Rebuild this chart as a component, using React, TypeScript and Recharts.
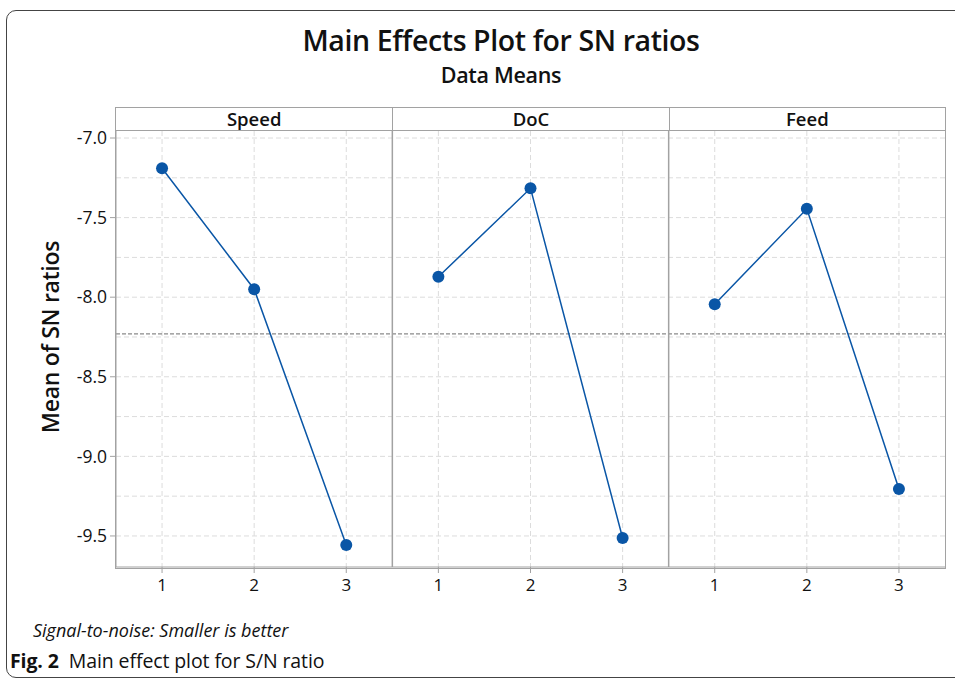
import React from "react";
import { LineChart, Line, XAxis, YAxis, CartesianGrid, ReferenceLine } from "recharts";

// factors and levels
const factors = ["Speed", "DoC", "Feed"];
const levels = [1, 2, 3];

// mean SN ratio per level
const speedMeans = [-7.19, -7.95, -9.557];
const docMeans = [-7.872, -7.316, -9.513];
const feedMeans = [-8.044, -7.445, -9.205];

const yTicks = [-9.5, -9.0, -8.5, -8.0, -7.5, -7.0];
const yGrid = [-9.5, -9.25, -9.0, -8.75, -8.5, -8.25, -8.0, -7.75, -7.5, -7.25, -7.0];
const overallMean = -8.23;

const keys = ["speed", "doc", "feed"];
const allMeans = [speedMeans, docMeans, feedMeans];

// one row per (factor, level), x runs 1..9 across the three panels
const rows = allMeans.flatMap((means, f) =>
  levels.map((lvl, i) => ({ x: f * 3 + lvl, [keys[f]]: means[i] }))
);
const xTicks = rows.map((r) => r.x);

const FONT = "'Open Sans', 'Noto Sans', sans-serif";
const BORDER = "#a2a2a2";
const BLUE = "#0a56a6";

const W = 955;
const H = 679;
const PL = 116; // plot left
const PR = 945; // plot right
const PT = 131; // plot top (below strip)
const PB = 567; // plot bottom
const STRIP_TOP = 107;
const TITLE_CX = 501;

export default function App() {
  const panelW = (PR - PL) / 3;
  return (
    <div style={{ position: "absolute", left: 0, top: 0, width: W, height: H, background: "#fff", fontFamily: FONT, overflow: "hidden" }}>
      {/* outer frame */}
      <div style={{ position: "absolute", left: 6, top: 10, width: 970, height: 666, border: "1px solid #444", borderRadius: 10 }} />

      <div style={{ position: "absolute", left: TITLE_CX - 300, width: 600, top: 21, textAlign: "center", fontSize: 28.5, fontWeight: 600, letterSpacing: -0.4, color: "#111", whiteSpace: "nowrap" }}>
        Main Effects Plot for SN ratios
      </div>
      <div style={{ position: "absolute", left: TITLE_CX - 150, width: 300, top: 60, textAlign: "center", fontSize: 21.5, fontWeight: 600, letterSpacing: -0.3, color: "#111" }}>
        Data Means
      </div>

      <LineChart
        width={W}
        height={H}
        data={rows}
        margin={{ top: PT, right: W - PR, bottom: H - PB - 30, left: PL - 60 }}
        style={{ position: "absolute", left: 0, top: 0 }}
      >
        <CartesianGrid
          stroke="#dcdcdc"
          strokeDasharray="5 3"
          horizontalValues={yGrid}
          verticalValues={xTicks}
        />
        <XAxis
          type="number"
          dataKey="x"
          domain={[0.5, 9.5]}
          ticks={xTicks}
          tickFormatter={(v: number) => String(((v - 1) % 3) + 1)}
          height={30}
          tickSize={6}
          tickMargin={6}
          stroke={BORDER}
          tick={{ fill: "#111", fontSize: 17, fontFamily: FONT }}
        />
        <YAxis
          type="number"
          domain={[-9.695, -6.956]}
          allowDataOverflow
          ticks={yTicks}
          tickFormatter={(v: number) => v.toFixed(1)}
          width={60}
          tickSize={6}
          tickMargin={3}
          stroke={BORDER}
          tick={{ fill: "#111", fontSize: 17.5, fontFamily: FONT }}
        />
        <ReferenceLine y={overallMean} stroke="#8a8a8a" strokeDasharray="4 2" strokeWidth={1.2} />
        <ReferenceLine x={3.5} stroke={BORDER} strokeWidth={1.5} />
        <ReferenceLine x={6.5} stroke={BORDER} strokeWidth={1.5} />
        {keys.map((k) => (
          <Line
            key={k}
            dataKey={k}
            stroke={BLUE}
            strokeWidth={1.5}
            dot={{ r: 6, fill: BLUE, stroke: BLUE, strokeWidth: 0 }}
            activeDot={false}
            connectNulls={false}
            isAnimationActive={false}
          />
        ))}
      </LineChart>

      {/* plot frame */}
      <div style={{ position: "absolute", left: PL - 0.75, top: STRIP_TOP, width: PR - PL, height: PB - STRIP_TOP, border: `1.5px solid ${BORDER}`, pointerEvents: "none" }} />
      {/* strips */}
      {factors.map((f, i) => (
        <div
          key={f}
          style={{
            position: "absolute",
            left: PL + i * panelW,
            top: STRIP_TOP,
            width: panelW,
            height: PT - STRIP_TOP,
            borderBottom: `1.5px solid ${BORDER}`,
            borderLeft: i > 0 ? `1.5px solid ${BORDER}` : undefined,
            boxSizing: "border-box",
            textAlign: "center",
            fontSize: 18.5,
            fontWeight: 600,
            lineHeight: `${PT - STRIP_TOP}px`,
            color: "#111",
          }}
        >
          {f}
        </div>
      ))}

      {/* y axis title */}
      <div
        style={{
          position: "absolute",
          left: 50 - 120,
          top: 337 - 15,
          width: 240,
          height: 30,
          lineHeight: "30px",
          textAlign: "center",
          transform: "rotate(-90deg)",
          fontSize: 23,
          fontWeight: 600,
          letterSpacing: -0.3,
          color: "#111",
        }}
      >
        Mean of SN ratios
      </div>

      <div style={{ position: "absolute", left: 33, top: 618, fontSize: 18, fontStyle: "italic", color: "#111", whiteSpace: "nowrap" }}>
        Signal-to-noise: Smaller is better
      </div>
      <div style={{ position: "absolute", left: 10, top: 647, fontSize: 19.5, letterSpacing: -0.1, color: "#111", whiteSpace: "nowrap" }}>
        <b>Fig. 2</b>&nbsp;&nbsp;Main effect plot for S/N ratio
      </div>
    </div>
  );
}
